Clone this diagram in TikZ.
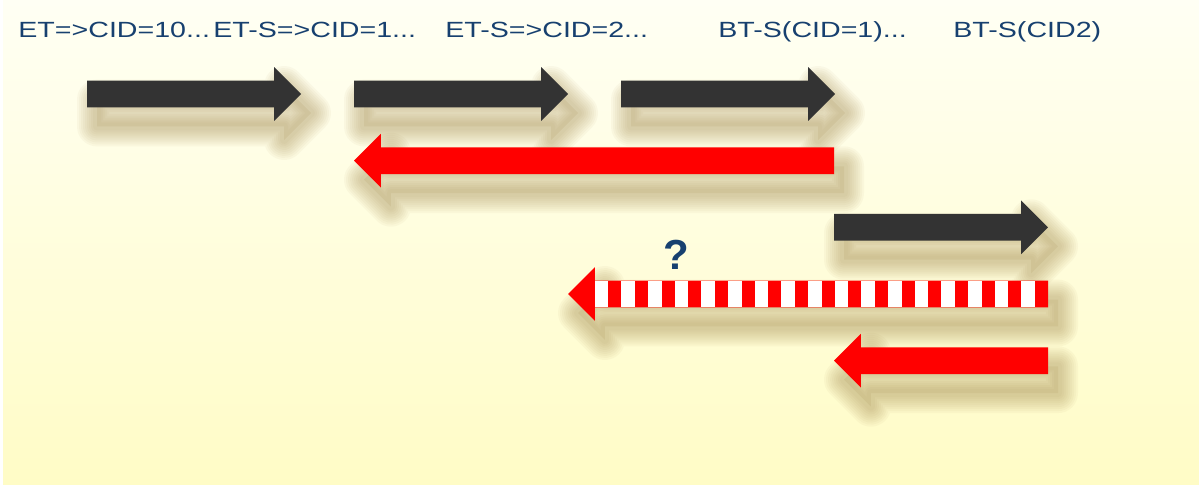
\documentclass[tikz,border=0pt]{standalone}
\usepackage{fontspec}
\setmainfont{Liberation Sans}
\usepackage{graphicx}
\usepackage{tikz}
\usetikzlibrary{shapes.arrows,shadows}
\definecolor{bgtop}{HTML}{FFFFF4}
\definecolor{bgbot}{HTML}{FFFCC6}
\definecolor{ink}{HTML}{333333}
\definecolor{alarm}{HTML}{FF0000}
\definecolor{navy}{HTML}{17406F}
\definecolor{shade}{HTML}{A08448}
\newcommand{\widelabel}[1]{\scalebox{1.3}[1]{#1}}
\tikzset{
  blurlayer/.style={general shadow={draw=shade, line join=round, line width=#1,
    opacity=0.05, shadow xshift=5pt, shadow yshift=-9.5pt}},
  softshadow/.style={blurlayer=20pt, blurlayer=18pt, blurlayer=16pt, blurlayer=14pt,
    blurlayer=12pt, blurlayer=10pt, blurlayer=8pt, blurlayer=6pt, blurlayer=4pt,
    general shadow={fill=shade, opacity=0.12, shadow xshift=5pt, shadow yshift=-9.5pt}},
  flow/.style={single arrow, single arrow head extend=6.75pt, single arrow head indent=0pt,
    single arrow tip angle=90, inner sep=6.5pt, outer sep=0pt, minimum width=26.5pt,
    anchor=tail, softshadow},
  fwd/.style={flow, fill=ink, minimum height=107pt},
  back/.style={flow, fill=alarm, shape border rotate=180},
  lbl/.style={anchor=base west, inner sep=0pt, text=navy, font=\fontsize{11}{13}\selectfont},
  ask/.style={text=navy, inner sep=0pt, font=\bfseries\fontsize{21}{24}\selectfont}
}

\begin{document}
\begin{tikzpicture}[x=0.5pt, y=-0.5pt]
  \useasboundingbox (0,0) rectangle (1199,487);
  \fill[white] (0,0) rectangle (1199,487);
  \shade[top color=bgtop, bottom color=bgbot] (3,0) rectangle (1199,484);

  \node[lbl] (l1) at (18,37) {\widelabel{ET=>CID=10...}};
  \node[lbl] (l2) at (213,37) {\widelabel{ET-S=>CID=1...}};
  \node[lbl] (l3) at (445,37) {\widelabel{ET-S=>CID=2...}};
  \node[lbl] (l4) at (718,37) {\widelabel{BT-S(CID=1)...}};
  \node[lbl] (l5) at (953,37) {\widelabel{BT-S(CID2)}};

  \node[fwd] (a1) at (87,94) {};
  \node[fwd] (a2) at (354,94) {};
  \node[fwd] (a3) at (621,94) {};
  \node[back, minimum height=240pt] (r1) at (834,160.7) {};
  \node[fwd] (a4) at (834,227.3) {};
  \node[back, minimum height=240pt] (r2) at (1048,294) {};
  \node[back, minimum height=107pt] (r3) at (1048,360.7) {};

  % white gaps of the striped arrow
  \foreach \k in {0,...,16}
    \fill[white] ({1035-\k*26.667-13.667},281) rectangle ({1035-\k*26.667},307);

  \node[ask] (q) at (676,255) {?};
\end{tikzpicture}
\end{document}
